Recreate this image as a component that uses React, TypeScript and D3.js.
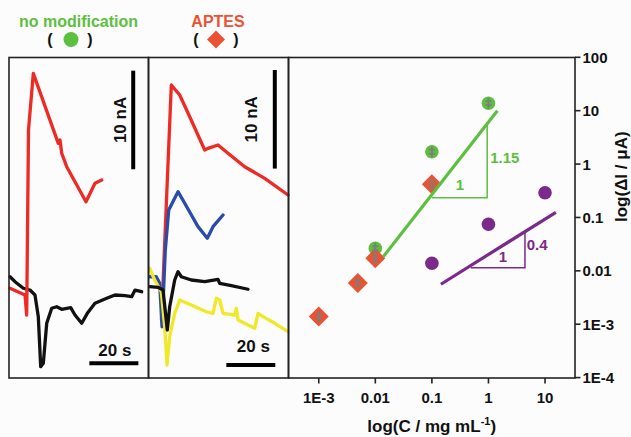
import React from 'react';
import * as d3 from 'd3';

const W = 631;
const H = 437;

// ---------- Right panel data (log-log) ----------
const concNoMod = [0.01, 0.1, 1];
const currNoMod = [0.0265, 1.7, 13.8];
const concAptes = [0.001, 0.0049, 0.01, 0.1];
const currAptes = [0.00139, 0.0059, 0.0172, 0.42];
const concOther = [0.1, 1, 10];
const currOther = [0.0139, 0.0746, 0.291];
const xTickValues = [0.001, 0.01, 0.1, 1, 10];
const xTickLabels = ['1E-3', '0.01', '0.1', '1', '10'];
const yTickValues = [100, 10, 1, 0.1, 0.01, 0.001, 0.0001];
const yTickLabels = ['100', '10', '1', '0.1', '0.01', '1E-3', '1E-4'];
const greenFitC = [0.01384, 1.436];
const greenFitI = [0.01845, 10];
const purpleFitC = [0.1443, 15.56];
const purpleFitI = [0.00561, 0.125];
const greenTriC = [0.1, 0.95, 0.95];
const greenTriI = [0.235, 0.235, 5.4];
const purpleTriC = [0.488, 4.42, 4.42];
const purpleTriI = [0.01148, 0.01148, 0.0519];
const slopeLabels = [
  { text: '1', c: 0.312, i: 0.419, color: '#5cbf3f' },
  { text: '1.15', c: 1.94, i: 1.34, color: '#5cbf3f' },
  { text: '1', c: 1.81, i: 0.01845, color: '#7b2a8c' },
  { text: '0.4', c: 7.28, i: 0.0305, color: '#7b2a8c' },
];

// ---------- Left panel traces (time s, current nA) ----------
const leftRedT = [0.41, 6.53, 7.22, 7.96, 9.92, 20.12, 20.82, 21.51, 23.55, 31.43, 33.76, 35.1, 37.84];
const leftRedI = [9.1, 8.42, 6.39, 25.15, 30.9, 23.8, 24.14, 22.79, 21.43, 17.88, 19.07, 19.75, 20.08];
const leftBlackT = [0.41, 2.45, 5.84, 8.57, 10.61, 11.96, 12.94, 14.0, 15.39, 17.43, 19.47, 21.51, 23.55, 25.18, 26.94, 29.67, 31.96, 35.1, 39.88, 43.27, 47.35, 50.08, 51.43, 54.16];
const leftBlackI = [10.27, 9.77, 9.1, 8.92, 8.42, 6.22, 1.15, 1.49, 5.55, 7.07, 7.23, 6.97, 7.07, 7.13, 6.39, 5.55, 6.56, 7.58, 8.08, 8.42, 8.35, 8.25, 8.92, 8.75];

// ---------- Middle panel traces ----------
const midRedT = [4.9, 8.91, 12.34, 16.43, 22.56, 23.91, 27.99, 32.08, 38.9, 47.08, 56.6];
const midRedI = [5.88, 29.72, 28.7, 26.5, 23.12, 23.29, 23.63, 22.79, 21.43, 20.25, 18.56];
const midBlueT = [0.2, 2.78, 4.17, 5.11, 6.46, 7.85, 11.65, 14.39, 19.82, 23.62, 25.95, 30.04];
const midBlueI = [10.27, 10.27, 9.6, 5.2, 12.98, 17.04, 18.9, 17.72, 15.35, 14.17, 15.35, 16.53];
const midBlackT = [0.08, 3.47, 5.52, 7.27, 8.25, 10.3, 11.65, 13.0, 17.08, 22.56, 27.99, 28.69, 33.43, 40.25];
const midBlackI = [9.26, 9.2, 8.92, 4.87, 7.23, 9.94, 10.78, 10.27, 9.94, 9.77, 10.01, 9.6, 9.36, 9.0];
const midYellowT = [0.08, 2.13, 4.82, 6.21, 7.15, 8.25, 10.3, 12.34, 17.08, 23.21, 25.95, 27.3, 28.69, 30.04, 34.82, 35.48, 36.17, 40.25, 42.99, 44.34, 46.38, 51.16, 56.6];
const midYellowI = [11.12, 9.94, 8.75, 5.2, 1.32, 4.19, 6.56, 7.91, 7.4, 6.72, 6.56, 8.08, 7.91, 6.56, 6.39, 7.07, 5.88, 5.38, 5.04, 6.56, 6.22, 5.55, 4.7];

// scale bars: [t, I] endpoints
const leftVBarT = [50.7, 50.7];
const leftVBarI = [31.17, 21.17];
const leftHBarT = [32.8, 52.8];
const leftHBarI = [1.49, 1.49];
const midVBarT = [51.2, 51.2];
const midVBarI = [31.24, 21.24];
const midHBarT = [31.4, 51.4];
const midHBarI = [1.32, 1.32];

const FONT = 'Liberation Sans, Arial, Helvetica, sans-serif';
const GREEN = '#5cbf3f';
const ORANGE = '#ea5233';
const PURPLE = '#7b2a8c';

const zip = (a: number[], b: number[]) => a.map((v, k) => [v, b[k]] as [number, number]);

export default function App() {
  // right panel scales
  const x = d3.scaleLog().domain([Math.pow(10, -3.535), Math.pow(10, 1.53)]).range([288.5, 575]);
  const y = d3.scaleLog().domain([1e-4, 100]).range([377.6, 57.3]);
  // trace scales
  const xL = d3.scaleLinear().domain([0, 57]).range([9, 148.65]);
  const xM = d3.scaleLinear().domain([0, 57]).range([149.5, 289]);
  const yT = d3.scaleLinear().domain([0, 32.5]).range([378, 57.55]);

  const lineL = d3.line<[number, number]>().x(d => xL(d[0])).y(d => yT(d[1]));
  const lineM = d3.line<[number, number]>().x(d => xM(d[0])).y(d => yT(d[1]));
  const lineLog = d3.line<[number, number]>().x(d => x(d[0])).y(d => y(d[1]));

  const traceStyle = { fill: 'none', strokeWidth: 3.3, strokeLinejoin: 'round' as const, strokeLinecap: 'round' as const };

  const errBar = (cx: number, cy: number, key: string) => (
    <g key={key} stroke="#7d7d7d" strokeWidth={1.6}>
      <line x1={cx} x2={cx} y1={cy - 5.5} y2={cy + 5.5} />
      <line x1={cx - 3.2} x2={cx + 3.2} y1={cy - 2} y2={cy - 2} />
      <line x1={cx - 3.2} x2={cx + 3.2} y1={cy + 2} y2={cy + 2} />
    </g>
  );

  const diamond = (cx: number, cy: number, r: number) =>
    `M${cx},${cy - r}L${cx + r},${cy}L${cx},${cy + r}L${cx - r},${cy}Z`;

  return (
    <svg width={W} height={H} style={{ position: 'absolute', left: 0, top: 0, background: '#fcfcfc' }} fontFamily={FONT}>
      {/* legend */}
      <text x={78.5} y={21} textAnchor="middle" dominantBaseline="central" fontSize={16} fontWeight="bold" fill={GREEN}>no modification</text>
      <text x={50} y={39.5} textAnchor="middle" dominantBaseline="central" fontSize={16} fontWeight="bold" fill="#111">(</text>
      <circle cx={71} cy={39.5} r={7.5} fill={GREEN} />
      <text x={90} y={39.5} textAnchor="middle" dominantBaseline="central" fontSize={16} fontWeight="bold" fill="#111">)</text>
      <text x={218} y={21} textAnchor="middle" dominantBaseline="central" fontSize={16} fontWeight="bold" fill={ORANGE}>APTES</text>
      <text x={196} y={39.5} textAnchor="middle" dominantBaseline="central" fontSize={16} fontWeight="bold" fill="#111">(</text>
      <path d={diamond(216, 39.5, 9)} fill={ORANGE} />
      <text x={236} y={39.5} textAnchor="middle" dominantBaseline="central" fontSize={16} fontWeight="bold" fill="#111">)</text>

      {/* left panel traces */}
      <path d={lineL(zip(leftBlackT, leftBlackI)) || ''} stroke="#111" {...traceStyle} />
      <path d={lineL(zip(leftRedT, leftRedI)) || ''} stroke="#ee2a24" {...traceStyle} />
      {/* middle panel traces */}
      <path d={lineM(zip(midRedT, midRedI)) || ''} stroke="#ee2a24" {...traceStyle} />
      <path d={lineM(zip(midBlueT, midBlueI)) || ''} stroke="#2b4ba8" {...traceStyle} />
      <path d={lineM(zip(midYellowT, midYellowI)) || ''} stroke="#f2e82a" {...traceStyle} />
      <path d={lineM(zip(midBlackT, midBlackI)) || ''} stroke="#111" {...traceStyle} />

      {/* scale bars */}
      <path d={lineL(zip(leftVBarT, leftVBarI)) || ''} stroke="#000" strokeWidth={4} />
      <path d={lineL(zip(leftHBarT, leftHBarI)) || ''} stroke="#000" strokeWidth={4} />
      <path d={lineM(zip(midVBarT, midVBarI)) || ''} stroke="#000" strokeWidth={4} />
      <path d={lineM(zip(midHBarT, midHBarI)) || ''} stroke="#000" strokeWidth={4} />
      <text transform={`translate(${xL(50.7) - 12.5},${yT(26.17)}) rotate(-90)`} textAnchor="middle" dominantBaseline="central" fontSize={17} fontWeight="bold" fill="#111">10 nA</text>
      <text transform={`translate(${xM(51.2) - 23.5},${yT(26.24)}) rotate(-90)`} textAnchor="middle" dominantBaseline="central" fontSize={17} fontWeight="bold" fill="#111">10 nA</text>
      <text x={xL(42.8) + 1} y={yT(1.49) - 12.5} textAnchor="middle" dominantBaseline="central" fontSize={17} fontWeight="bold" fill="#111">20 s</text>
      <text x={xM(41.4) + 2.5} y={yT(1.32) - 18} textAnchor="middle" dominantBaseline="central" fontSize={17} fontWeight="bold" fill="#111">20 s</text>

      {/* panel frames */}
      <rect x={9} y={57.5} width={139.5} height={320.5} fill="none" stroke="#222" strokeWidth={1.6} />
      <rect x={148.5} y={57.5} width={140} height={320.5} fill="none" stroke="#222" strokeWidth={1.6} />
      <rect x={288.5} y={57.5} width={286.5} height={320.5} fill="none" stroke="#222" strokeWidth={1.6} />

      {/* right axis ticks */}
      {yTickValues.map((v, k) => (
        <g key={'yt' + k}>
          <line x1={575} x2={580.5} y1={y(v)} y2={y(v)} stroke="#222" strokeWidth={1.6} />
          <text x={582.5} y={y(v)} dominantBaseline="central" fontSize={15} fontWeight="bold" fill="#111">{yTickLabels[k]}</text>
        </g>
      ))}
      {xTickValues.map((v, k) => (
        <g key={'xt' + k}>
          <line x1={x(v)} x2={x(v)} y1={378} y2={383.5} stroke="#222" strokeWidth={1.6} />
          <text x={x(v)} y={397} textAnchor="middle" dominantBaseline="central" fontSize={15} fontWeight="bold" fill="#111">{xTickLabels[k]}</text>
        </g>
      ))}
      <text x={431.7} y={432} textAnchor="middle" fontSize={17} fontWeight="bold" fill="#111">
        log(C / mg mL<tspan dy={-7} fontSize={11}>-1</tspan><tspan dy={7}>)</tspan>
      </text>
      <text transform="translate(621,176.7) rotate(-90)" textAnchor="middle" dominantBaseline="central" fontSize={17} fontWeight="bold" fill="#111">log(ΔI / μA)</text>

      {/* markers */}
      {zip(concNoMod, currNoMod).map((d, k) => (
        <circle key={'g' + k} cx={x(d[0])} cy={y(d[1])} r={6.8} fill={GREEN} />
      ))}
      {zip(concOther, currOther).map((d, k) => (
        <circle key={'p' + k} cx={x(d[0])} cy={y(d[1])} r={6.8} fill={PURPLE} />
      ))}
      {zip(concAptes, currAptes).map((d, k) => (
        <path key={'a' + k} d={diamond(x(d[0]), y(d[1]), 10)} fill={ORANGE} />
      ))}
      {zip(concNoMod, currNoMod).map((d, k) => errBar(x(d[0]), y(d[1]), 'eg' + k))}
      {zip(concAptes, currAptes).map((d, k) => errBar(x(d[0]), y(d[1]), 'ea' + k))}

      {/* fits and slope triangles */}
      <path d={lineLog(zip(greenFitC, greenFitI)) || ''} stroke={GREEN} strokeWidth={3.2} fill="none" />
      <path d={lineLog(zip(purpleFitC, purpleFitI)) || ''} stroke={PURPLE} strokeWidth={3.2} fill="none" />
      <path d={lineLog(zip(greenTriC, greenTriI)) || ''} stroke={GREEN} strokeWidth={1.5} fill="none" />
      <path d={lineLog(zip(purpleTriC, purpleTriI)) || ''} stroke={PURPLE} strokeWidth={1.5} fill="none" />
      {slopeLabels.map((s, k) => (
        <text key={'sl' + k} x={x(s.c)} y={y(s.i)} textAnchor="middle" dominantBaseline="central" fontSize={15} fontWeight="bold" fill={s.color}>{s.text}</text>
      ))}
    </svg>
  );
}
